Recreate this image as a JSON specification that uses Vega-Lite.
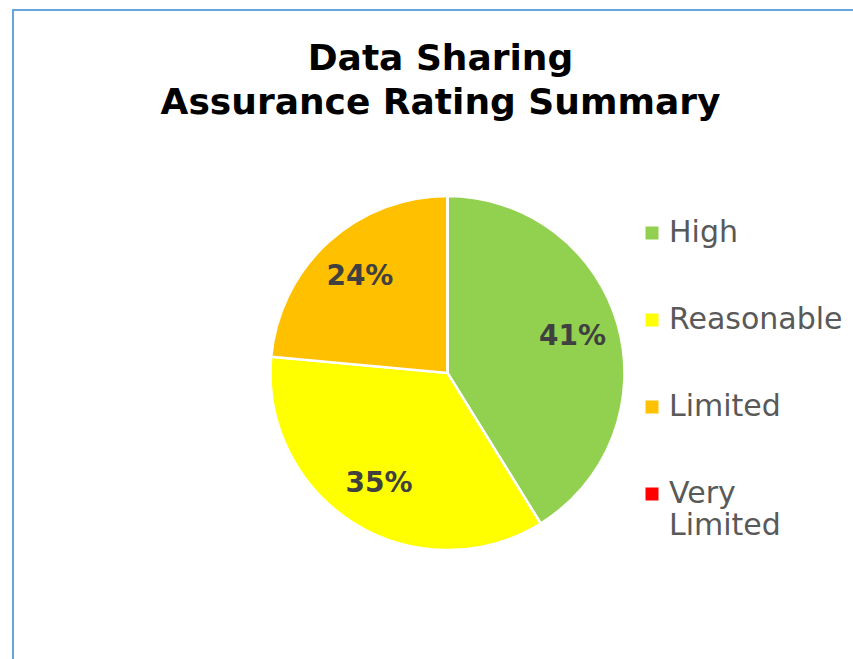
{
  "$schema": "https://vega.github.io/schema/vega-lite/v6.json",
  "autosize": {"type": "none"},
  "width": 869,
  "height": 726,
  "padding": {"left": 13, "top": 10, "right": -29, "bottom": -77},
  "background": "white",
  "view": {"stroke": "#6aa4dc", "strokeWidth": 2, "fill": "white"},
  "config": {
    "view": {"stroke": "#6aa4dc", "strokeWidth": 2},
    "font": "DejaVu Sans"
  },
  "title": {
    "text": ["Data Sharing", "Assurance Rating Summary"],
    "font": "DejaVu Sans",
    "fontSize": 36,
    "fontWeight": "bold",
    "color": "#000000",
    "anchor": "middle",
    "lineHeight": 44,
    "offset": -112,
    "dx": -7
  },
  "data": {
    "values": [
      {"rating": "High", "count": 7, "pct": "41%"},
      {"rating": "Reasonable", "count": 6, "pct": "35%"},
      {"rating": "Limited", "count": 4, "pct": "24%"},
      {"rating": "Very Limited", "count": 0, "pct": ""}
    ]
  },
  "encoding": {
    "theta": {"field": "count", "type": "quantitative", "stack": true},
    "color": {
      "field": "rating",
      "type": "nominal",
      "sort": ["High", "Reasonable", "Limited", "Very Limited"],
      "scale": {
        "domain": ["High", "Reasonable", "Limited", "Very Limited"],
        "range": ["#92d050", "#ffff00", "#ffc000", "#ff0000"]
      },
      "legend": {
        "title": null,
        "orient": "none",
        "legendX": 624,
        "legendY": 208,
        "padding": 0,
        "symbolType": "square",
        "symbolSize": 169,
        "symbolStrokeWidth": 0,
        "labelFont": "DejaVu Sans",
        "labelFontSize": 30,
        "labelColor": "#595959",
        "labelOffset": 2,
        "rowPadding": 57,
        "labelLimit": 300,
        "labelExpr": "datum.label == 'Very Limited' ? ['Very', 'Limited'] : datum.label"
      }
    },
    "order": {"field": "count", "type": "quantitative", "sort": "descending"}
  },
  "layer": [
    {
      "mark": {"type": "arc", "outerRadius": 177, "stroke": "white", "strokeWidth": 2.5}
    },
    {
      "mark": {"type": "text", "radius": 130, "font": "DejaVu Sans", "fontWeight": "bold", "fontSize": 28, "fill": "#404040"},
      "encoding": {"text": {"field": "pct"}}
    }
  ]
}
